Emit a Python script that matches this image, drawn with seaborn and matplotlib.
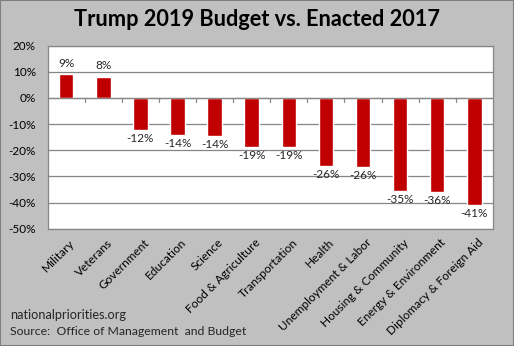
import matplotlib
matplotlib.use("Agg")
import matplotlib.pyplot as plt
import matplotlib.transforms as mtransforms
import seaborn as sns
import pandas as pd
from matplotlib.patches import Rectangle

categories = ["Military", "Veterans", "Government", "Education", "Science",
              "Food & Agriculture", "Transportation", "Health",
              "Unemployment & Labor", "Housing & Community",
              "Energy & Environment", "Diplomacy & Foreign Aid"]
changes = [9.0, 8.2, -12.2, -14.0, -14.4, -18.7, -18.7, -26.0, -26.4, -35.5, -36.0, -40.9]
labels = ["9%", "8%", "-12%", "-14%", "-14%", "-19%", "-19%", "-26%", "-26%", "-35%", "-36%", "-41%"]
yticks = [20, 10, 0, -10, -20, -30, -40, -50]

sns.set_theme(style="white")
plt.rcParams["font.family"] = ["Lato", "DejaVu Sans"]
plt.rcParams["axes.unicode_minus"] = False

df = pd.DataFrame({"category": categories, "change": changes})

fig = plt.figure(figsize=(5.14, 3.46), dpi=100, facecolor="#C0C0C0")
ax = fig.add_axes([0.0928, 0.339, 0.866, 0.529])
ax.set_facecolor("white")

sns.barplot(data=df, x="category", y="change", color="#C00000", width=0.39,
            saturation=1, ax=ax, zorder=3)

ax.set_ylim(-50, 20)
ax.set_xlim(-0.5, len(categories) - 0.5)
ax.set_yticks(yticks)
ax.set_yticklabels([f"{t}%" for t in yticks], fontsize=8.5, color="black")
ax.tick_params(axis="y", length=0, pad=8.5)
ax.yaxis.grid(True, color="#868686", linewidth=0.9, zorder=0)
ax.set_axisbelow(True)
ax.set_xlabel("")
ax.set_ylabel("")

ax.set_xticks(range(len(categories)))
ax.set_xticklabels(categories, rotation=45, ha="right", rotation_mode="anchor",
                   fontsize=8.6, color="black")
ax.tick_params(axis="x", length=0, pad=6)
shift = mtransforms.ScaledTranslation(3 / 100, 0, fig.dpi_scale_trans)
for t in ax.get_xticklabels():
    t.set_transform(t.get_transform() + shift)

for s in ax.spines.values():
    s.set_color("#868686")
    s.set_linewidth(0.9)

# zero line and its category-boundary ticks
ax.axhline(0, color="#868686", linewidth=0.9, zorder=4)
for b in range(1, len(categories)):
    ax.plot([b - 0.5, b - 0.5], [0, -1.6], color="#868686", linewidth=0.9, zorder=4)

for i, (v, lab) in enumerate(zip(changes, labels)):
    if v >= 0:
        ax.text(i, v + 2.2, lab, ha="center", va="bottom", fontsize=8.5)
    else:
        ax.text(i, v - 1.2, lab, ha="center", va="top", fontsize=8.5)

fig.text(0.5, 0.945, "Trump 2019 Budget vs. Enacted 2017", ha="center", va="center",
         fontsize=15.7, fontweight="bold", color="black")
fig.text(0.02, 0.09, "nationalpriorities.org", ha="left", va="center", fontsize=9.2)
fig.text(0.02, 0.043, "Source:  Office of Management  and Budget", ha="left", va="center", fontsize=8.8)

fig.patches.append(Rectangle((0, 0), 1, 1, transform=fig.transFigure, fill=False,
                             edgecolor="#7F7F7F", linewidth=1.5))

fig.savefig("out.png", dpi=100, facecolor=fig.get_facecolor())
